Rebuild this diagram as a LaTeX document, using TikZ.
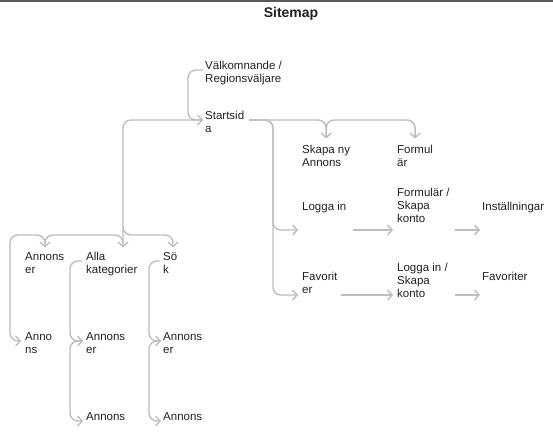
\documentclass[tikz,border=0pt]{standalone}
\usepackage{fontspec}
\setmainfont{Liberation Sans}
\usetikzlibrary{arrows.meta}
\definecolor{linegray}{HTML}{BDBDBD}
\definecolor{textgray}{HTML}{212121}
\definecolor{framegray}{HTML}{5A5A5A}

\begin{document}
\begin{tikzpicture}[x=1pt,y=-1pt,
    page/.style={anchor=north west,inner sep=0pt,align=left,text=textgray,
      font=\fontsize{11.5}{13}\selectfont},
    plain/.style={draw=linegray,line width=1.4pt,rounded corners=8pt},
    link/.style={plain,-{Straight Barb[length=4.5pt,width=10pt]}}]
  \useasboundingbox (0,0) rectangle (553,434);
  \draw[framegray,line width=2pt] (0,1) -- (553,1);
  \node[text=textgray,font=\bfseries\fontsize{14}{16}\selectfont] (title) at (291,14) {Sitemap};

  % Pages
  \node[page] (welcome) at (205,60.5) {\strut Välkomnande /\\Regionsväljare};
  \node[page] (start) at (205,110.5) {\strut Startsid\\a};
  \node[page] (skapa) at (302,144.5) {\strut Skapa ny\\Annons};
  \node[page] (formul) at (397,144.5) {\strut Formul\\är};
  \node[page] (logga) at (302,201.5) {\strut Logga in};
  \node[page] (formkonto) at (397,187.5) {\strut Formulär /\\Skapa\\konto};
  \node[page] (install) at (482,201.5) {\strut Inställningar};
  \node[page] (favorit) at (302,271.5) {\strut Favorit\\er};
  \node[page] (loggakonto) at (397,262.5) {\strut Logga in /\\Skapa\\konto};
  \node[page] (favoriter) at (482,271.5) {\strut Favoriter};
  \node[page] (annonser) at (25,251.5) {\strut Annons\\er};
  \node[page] (alla) at (86,251.5) {\strut Alla\\kategorier};
  \node[page] (sok) at (163,251.5) {\strut Sö\\k};
  \node[page] (annons) at (25,331.5) {\strut Anno\\ns};
  \node[page] (allaannonser) at (86,331.5) {\strut Annons\\er};
  \node[page] (sokannonser) at (163,331.5) {\strut Annons\\er};
  \node[page] (allaannons) at (86,411.5) {\strut Annons};
  \node[page] (sokannons) at (163,411.5) {\strut Annons};

  % Rows of the arrows
  \coordinate (rowA) at (0,230);
  \coordinate (rowB) at (0,295);
  \coordinate (rowC) at (0,235);

  % Welcome -> start
  \draw[link] ([xshift=-2pt,yshift=-9.5pt]welcome.north west) -- ++(-15,0)
    |- ([xshift=-2pt,yshift=-9.5pt]start.north west);

  % Start -> right side
  \draw[link] ([xshift=5pt,yshift=-9.5pt]start.north east) -| ([yshift=6pt]skapa.north);
  \draw[link] ([yshift=15pt]skapa.north) |- ([yshift=24.5pt]formul.north) -- ([yshift=6pt]formul.north);
  \draw[link] ([xshift=5pt,yshift=-9.5pt]start.north east) -| ([xshift=-29pt]logga.west |- rowA)
    -- ([xshift=-4pt]logga.west |- rowA);
  \draw[link] ([xshift=5pt,yshift=-9.5pt]start.north east) -| ([xshift=-29pt]favorit.west |- rowB)
    -- ([xshift=-4pt]favorit.west |- rowB);
  \draw[link] ([xshift=6pt]logga.east |- rowA) -- ([xshift=-4pt]formkonto.west |- rowA);
  \draw[link] ([xshift=5pt]formkonto.east |- rowA) -- ([xshift=-2pt]install.west |- rowA);
  \draw[link] ([xshift=3pt]favorit.east |- rowB) -- ([xshift=-4pt]loggakonto.west |- rowB);
  \draw[link] ([xshift=7pt]loggakonto.east |- rowB) -- ([xshift=-2pt]favoriter.west |- rowB);

  % Start -> left side
  \draw[link] ([xshift=-2pt,yshift=-9.5pt]start.north west) -| ([xshift=37pt,yshift=4pt]alla.north west);
  \draw[link] ([xshift=37pt,yshift=25.5pt]alla.north west) |- ([xshift=10pt]sok.north west |- rowC)
    -- ([xshift=10pt,yshift=4pt]sok.north west);
  \draw[link] ([xshift=37pt,yshift=8pt]alla.north west) |- ([xshift=20pt]annonser.north west |- rowC)
    -- ([xshift=20pt,yshift=4pt]annonser.north west);
  \draw[link] ([xshift=20pt,yshift=8pt]annonser.north west) |- ([xshift=-15pt]annons.north west |- rowC)
    |- ([xshift=-4pt,yshift=-9.5pt]annons.north west);

  % Columns below
  \draw[link] ([xshift=-4pt,yshift=-9.5pt]alla.north west) -| ([xshift=-16pt,yshift=-9.5pt]allaannonser.north west)
    -- ([xshift=-3pt,yshift=-9.5pt]allaannonser.north west);
  \draw[link] ([xshift=-3pt,yshift=-9.5pt]allaannonser.north west) -| ([xshift=-16pt,yshift=-9.5pt]allaannons.north west)
    -- ([xshift=-3pt,yshift=-9.5pt]allaannons.north west);
  \draw[link] ([xshift=-3pt,yshift=-9.5pt]sok.north west) -| ([xshift=-14pt,yshift=-9.5pt]sokannonser.north west)
    -- ([xshift=-2pt,yshift=-9.5pt]sokannonser.north west);
  \draw[link] ([xshift=-2pt,yshift=-9.5pt]sokannonser.north west) -| ([xshift=-14pt,yshift=-9.5pt]sokannons.north west)
    -- ([xshift=-2pt,yshift=-9.5pt]sokannons.north west);
\end{tikzpicture}
\end{document}
